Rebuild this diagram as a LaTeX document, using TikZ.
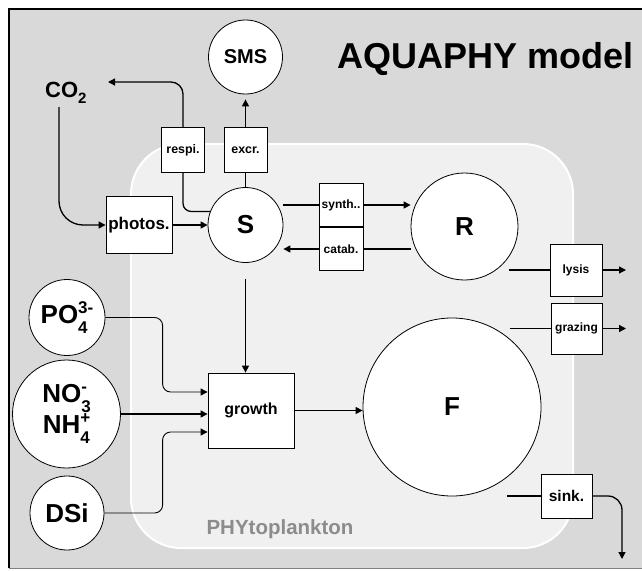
\documentclass[tikz,border=0pt]{standalone}
\usepackage{fontspec}
\setmainfont{Liberation Sans}
\usetikzlibrary{arrows.meta,calc}
\definecolor{bggray}{HTML}{D9D9D9}
\definecolor{innergray}{HTML}{F0F0F0}
\definecolor{labelgray}{HTML}{8C8C8C}
\newcommand{\chemss}[3]{\begingroup\fontsize{#1}{#1}\selectfont
  \setbox0\hbox{\raisebox{-10pt}{#2}}\setbox2\hbox{\raisebox{10pt}{#3}}%
  \ifdim\wd0>\wd2 \rlap{\box2}\box0\else\rlap{\box0}\box2\fi\endgroup}
\newcommand{\chemsub}[2]{\raisebox{-6pt}{\fontsize{#1}{#1}\selectfont #2}}
\tikzset{
  pool/.style={circle, draw, line width=0.8pt, fill=white, inner sep=0pt},
  proc/.style={rectangle, draw, line width=0.8pt, fill=white, inner sep=0pt},
  flow/.style={line width=1.3pt, -{Triangle[length=7pt,width=7pt]}},
  thinflow/.style={line width=0.9pt, -{Triangle[length=7pt,width=7pt]}},
  link/.style={line width=1.3pt},
  fs/.style={font=\bfseries\fontsize{#1}{#1}\selectfont},
}
\begin{document}
\begin{tikzpicture}[x=1pt,y=-1pt]
\fill[white] (0,0) rectangle (642,570);
\useasboundingbox (0,0) rectangle (642,570);
% frame
\fill[bggray] (9,9) rectangle (642,568);
\draw[line width=2.5pt] (9,568) -- (9,9) -- (642,9);
\draw[gray, line width=0.8pt] (9,568) -- (642,568);
\draw[white, line width=2pt, fill=innergray, rounded corners=50pt] (131,144) rectangle (573,548);
% labels
\node[fs=36, anchor=base] (title) at (486,68) {AQUAPHY model};
\node[fs=20.5, text=labelgray, anchor=base] (phy) at (280,534) {PHYtoplankton};
\node[fs=22, anchor=base west, inner sep=0pt] (CO2) at (45,97) {CO\chemsub{15}{2}};
\coordinate (co2out) at (59,107);
\coordinate (respiout) at (108,82);
% pools
\node[pool, minimum size=74pt, fs=20] (SMS) at (245.5,57) {SMS};
\node[pool, minimum size=75pt, fs=26] (S) at (245.5,225) {S};
\node[pool, minimum size=107pt, fs=26] (R) at (464.5,226.5) {R};
\node[pool, minimum size=178pt, fs=26] (F) at (452,407) {F};
\node[pool, minimum size=76pt, fs=26] (PO4) at (67,317.5) {PO\chemss{17}{4}{3-}};
\node[pool, minimum size=108pt, align=center, font=\bfseries\fontsize{26}{30}\selectfont] (N) at (66.5,414) {NO\chemss{17}{3}{-}\\NH\chemss{17}{4}{+}};
\node[pool, minimum size=74pt, fs=26] (DSi) at (67,513) {DSi};
% processes
\node[proc, minimum width=43pt, minimum height=45pt, fs=12.4] (respi) at (183,150) {respi.};
\node[proc, minimum width=43pt, minimum height=45pt, fs=12.4] (excr) at (245.5,150) {excr.};
\node[proc, minimum width=66pt, minimum height=57pt, fs=17] (photos) at (139,225) {photos.};
\node[proc, minimum width=44pt, minimum height=43pt, fs=12] (synth) at (341,205) {synth..};
\node[proc, minimum width=44pt, minimum height=43pt, fs=12] (catab) at (341,249) {catab.};
\node[proc, minimum width=86pt, minimum height=75pt, fs=16] (growth) at (251,410.5) {growth};
\node[proc, minimum width=52pt, minimum height=52pt, fs=12] (lysis) at (576,270) {lysis};
\node[proc, minimum width=51pt, minimum height=51pt, fs=12] (grazing) at (576.5,328.5) {grazing};
\node[proc, minimum width=51pt, minimum height=44pt, fs=15.5] (sink) at (566.5,496) {sink.};
% free ends
\coordinate (lysin) at (509,270);
\coordinate (lysout) at (626,270);
\coordinate (grazin) at (510,328.5);
\coordinate (grazout) at (626,328.5);
\coordinate (sinkin) at (507,496);
\coordinate (sinkout) at (622,559);
\coordinate (g1) at ($(growth.west)+(0,-18.5)$);
\coordinate (g1c) at ($(growth.west)+(-45,-18.5)$);
\coordinate (g3) at ($(growth.west)+(0,21.5)$);
\coordinate (g3c) at ($(growth.west)+(-45,21.5)$);
% connectors
\draw[link] (S.north) -- (excr.south);
\draw[flow, shorten >=5pt] (excr.north) -- (SMS.south);
\draw[link, rounded corners=8pt] (respi.south) |- (S.159);
\draw[flow, rounded corners=12pt] (respi.north) |- (respiout);
\draw[flow, rounded corners=24pt] (co2out) |- (photos.west);
\draw[flow] (photos.east) -- (S.west);
\draw[link] (S.east |- synth.west) -- (synth.west);
\draw[flow] (synth.east) -- (R.west |- synth.east);
\draw[link] (R.west |- catab.east) -- (catab.east);
\draw[flow] (catab.west) -- (S.east |- catab.west);
\draw[flow, shorten <=16pt] (S.south) -- (S.south |- growth.north);
\draw[flow] (growth.east) -- (F.west |- growth.east);
\draw[thinflow, rounded corners=8pt] (PO4.east) -| (g1c) -- (g1);
\draw[flow] (N.east) -- (growth.west |- N.east);
\draw[thinflow, rounded corners=8pt] (DSi.east) -| (g3c) -- (g3);
\draw[link] (lysin) -- (lysis.west);
\draw[flow] (lysis.east) -- (lysout);
\draw[link] (grazin) -- (grazing.west);
\draw[flow] (grazing.east) -- (grazout);
\draw[link] (sinkin) -- (sink.west);
\draw[flow, rounded corners=14pt] (sink.east) -| (sinkout);
\end{tikzpicture}
\end{document}
